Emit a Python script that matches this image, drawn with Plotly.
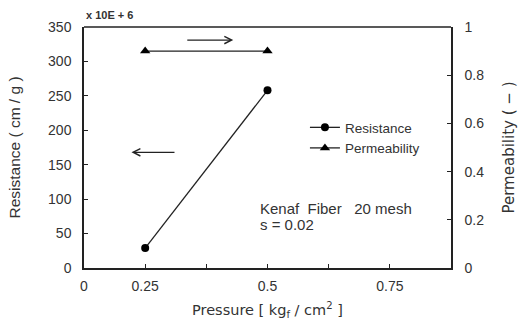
import plotly.graph_objects as go

# ---- data ----
pressure = [0.25, 0.5]
resistance = [29, 258]          # x10E+6 cm/g
permeability = [0.9, 0.9]       # (-)

x_tickvals = [0.125, 0.25, 0.375, 0.5, 0.625, 0.75]
x_ticktext = ["0", "0.25", "", "0.5", "", "0.75"]

FONT = "Liberation Sans, Arial, sans-serif"
WIDE = "DejaVu Sans, Verdana, sans-serif"
TXT = "#333333"
LINE = "#222222"

fig = go.Figure()
fig.add_trace(go.Scatter(
    x=pressure, y=resistance, name="Resistance", mode="lines+markers",
    line=dict(color=LINE, width=1.3),
    marker=dict(symbol="circle", size=8, color="black"),
))
fig.add_trace(go.Scatter(
    x=pressure, y=permeability, name="Permeability", mode="lines+markers",
    yaxis="y2",
    line=dict(color=LINE, width=1.3),
    marker=dict(symbol="triangle-up", size=9, color="black"),
))

axis_common = dict(
    showline=True, linecolor=LINE, linewidth=1.5, mirror=False,
    showgrid=False, zeroline=False, ticks="inside", ticklen=4,
    tickcolor=LINE, tickfont=dict(family=FONT, size=14, color=TXT),
    automargin=False,
)

fig.update_layout(
    width=519, height=322,
    margin=dict(l=84, r=68, t=27, b=54),
    paper_bgcolor="white", plot_bgcolor="white",
    font=dict(family=FONT, color=TXT),
    showlegend=True,
    legend=dict(
        x=0.602, y=0.647, xanchor="left", yanchor="top",
        bgcolor="rgba(0,0,0,0)", font=dict(size=13.5, color=TXT),
        itemwidth=30, tracegroupgap=0,
    ),
    xaxis=dict(
        range=[0.125, 0.875], tickmode="array",
        tickvals=x_tickvals, ticktext=x_ticktext,
        ticklabelstandoff=4,
        title=dict(text="Pressure [ kg<sub>f</sub> / cm<sup>2</sup> ]",
                   font=dict(family=WIDE, size=14.5, color=TXT), standoff=12),
        **axis_common,
    ),
    yaxis=dict(
        range=[0, 350], dtick=50, ticklabelstandoff=8,
        title=dict(text="Resistance ( cm / g )",
                   font=dict(size=15.5, color=TXT), standoff=24),
        **axis_common,
    ),
    yaxis2=dict(
        range=[0, 1], dtick=0.2, overlaying="y", side="right",
        ticklabelstandoff=9,
        title=dict(text="Permeability ( − )",
                   font=dict(family=WIDE, size=15, color=TXT), standoff=20),
        **axis_common,
    ),
    shapes=[dict(type="line", xref="paper", yref="paper",
                 x0=0, x1=1, y0=1, y1=1, line=dict(color=LINE, width=1.5))],
    annotations=[
        dict(text="<b>x 10E + 6</b>", xref="paper", yref="paper",
             x=0, y=1.015, xanchor="left", yanchor="bottom", showarrow=False,
             font=dict(size=11, color=TXT)),
        dict(text="Kenaf  Fiber   20 mesh", xref="paper", yref="paper",
             x=0.474, y=0.248, xanchor="left", yanchor="middle", showarrow=False,
             align="left", font=dict(size=15, color=TXT)),
        dict(text="s = 0.02", xref="paper", yref="paper",
             x=0.474, y=0.182, xanchor="left", yanchor="middle", showarrow=False,
             align="left", font=dict(size=15, color=TXT)),
        # arrow pointing to right axis (permeability)
        dict(x=0.43, y=331, ax=0.333, ay=331, xref="x", yref="y",
             axref="x", ayref="y", text="", showarrow=True,
             arrowhead=5, arrowsize=1.2, arrowwidth=1.2, arrowcolor=LINE),
        # arrow pointing to left axis (resistance)
        dict(x=0.222, y=168, ax=0.313, ay=168, xref="x", yref="y",
             axref="x", ayref="y", text="", showarrow=True,
             arrowhead=5, arrowsize=1.2, arrowwidth=1.2, arrowcolor=LINE),
    ],
)

fig.write_html("out.html", config={"displayModeBar": False},
               post_script="document.body.style.margin='0';")
